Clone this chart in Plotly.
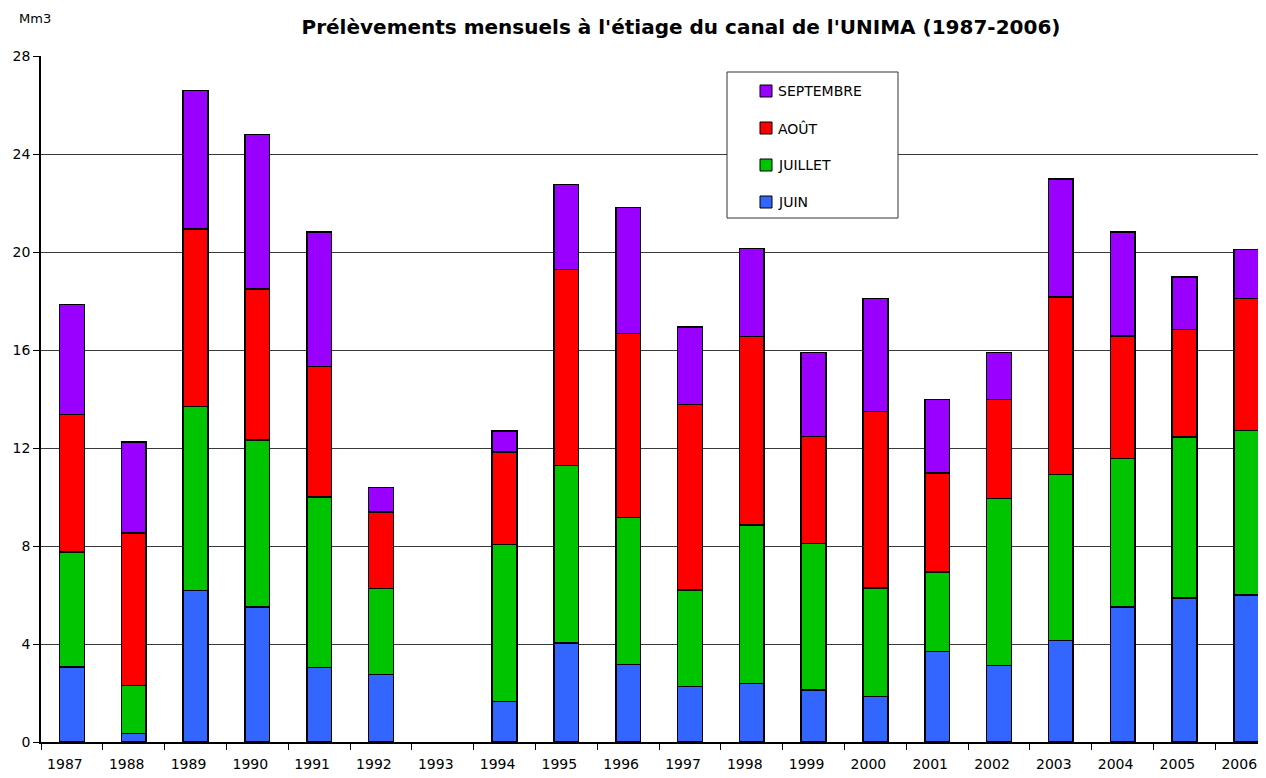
import plotly.graph_objects as go

years = ["1987", "1988", "1989", "1990", "1991", "1992", "1993", "1994", "1995", "1996",
         "1997", "1998", "1999", "2000", "2001", "2002", "2003", "2004", "2005", "2006"]
juin = [3.06, 0.34, 6.18, 5.52, 3.05, 2.75, None, 1.65, 4.04, 3.17,
        2.26, 2.38, 2.12, 1.85, 3.69, 3.12, 4.14, 5.52, 5.88, 6.00]
juillet = [4.70, 1.97, 7.51, 6.81, 6.96, 3.51, None, 6.42, 7.25, 6.00,
           3.94, 6.48, 5.99, 4.44, 3.25, 6.81, 6.77, 6.06, 6.57, 6.71]
aout = [5.60, 6.23, 7.25, 6.16, 5.31, 3.13, None, 3.77, 7.99, 7.51,
        7.57, 7.70, 4.35, 7.21, 4.03, 4.06, 7.25, 4.99, 4.38, 5.39]
septembre = [4.50, 3.70, 5.66, 6.30, 5.50, 1.00, None, 0.85, 3.47, 5.13,
             3.16, 3.59, 3.43, 4.60, 3.00, 1.90, 4.81, 4.25, 2.14, 2.01]
y_ticks = [0, 4, 8, 12, 16, 20, 24, 28]

series = [("JUIN", juin, "#3366FF"),
          ("JUILLET", juillet, "#00C400"),
          ("AOÛT", aout, "#FF0000"),
          ("SEPTEMBRE", septembre, "#9900FF")]

FONT = "DejaVu Sans"
OFF = 8  # page body margin offset
W, H = 1266 - OFF, 778 - OFF
L, R, T, B = 41 - OFF, 0, 56 - OFF, 36
PW, PH = W - L - R, H - T - B


def px(x):
    # x given in window pixels
    return (x - OFF - L) / PW


def py(y):
    return (H - B - (y - OFF)) / PH


fig = go.Figure()
for name, vals, col in series:
    fig.add_trace(go.Bar(
        x=years, y=vals, name=name, width=0.4,
        marker=dict(color=col, line=dict(color="black", width=1.5)),
        showlegend=False,
    ))

# custom legend (box, swatches, labels), top to bottom: last series first
shapes = [dict(type="rect", xref="paper", yref="paper",
               x0=px(727), x1=px(898), y0=py(218), y1=py(72),
               line=dict(color="#333333", width=1), fillcolor="white", layer="above")]
annotations = []
for i, (name, vals, col) in enumerate(reversed(series)):
    cy = 91 + 37 * i
    shapes.append(dict(type="rect", xref="paper", yref="paper",
                       x0=px(760), x1=px(772), y0=py(cy + 6), y1=py(cy - 6),
                       line=dict(color="black", width=1), fillcolor=col, layer="above"))
    annotations.append(dict(text=name, xref="paper", yref="paper",
                            x=px(776), y=py(cy), xanchor="left", yanchor="middle",
                            showarrow=False,
                            font=dict(family=FONT, size=14, color="black")))

annotations.append(dict(text="Mm3", xref="paper", yref="paper",
                        x=px(35), y=py(19),
                        xanchor="center", yanchor="middle", showarrow=False,
                        font=dict(family=FONT, size=13, color="black")))

fig.update_layout(
    width=W, height=H,
    barmode="stack",
    paper_bgcolor="white", plot_bgcolor="white",
    margin=dict(l=L, r=R, t=T, b=B, autoexpand=False),
    font=dict(family=FONT, size=13, color="black"),
    title=dict(text="<b>Prélèvements mensuels à l'étiage du canal de l'UNIMA (1987-2006)</b>",
               x=px(681), xref="paper", xanchor="center",
               y=1 - (27 - OFF) / H, yref="container", yanchor="middle",
               font=dict(family=FONT, size=20, color="black")),
    showlegend=False,
    xaxis=dict(type="category", range=[-0.5, 19.32], automargin=False,
               showline=True, linecolor="black", linewidth=1.5,
               ticks="outside", tickson="boundaries", ticklen=6, tickcolor="black",
               ticklabelstandoff=8, ticklabelshift=-7,
               showgrid=False, tickfont=dict(size=14)),
    yaxis=dict(range=[0, 28], tickvals=y_ticks, ticktext=[str(v) for v in y_ticks],
               automargin=False,
               showline=True, linecolor="black", linewidth=1.5,
               ticks="outside", ticklen=6, tickcolor="black",
               showgrid=True, gridcolor="#3a3a3a", gridwidth=1,
               zeroline=False, tickfont=dict(size=14)),
    shapes=shapes,
    annotations=annotations,
)

fig.write_html("out.html")
